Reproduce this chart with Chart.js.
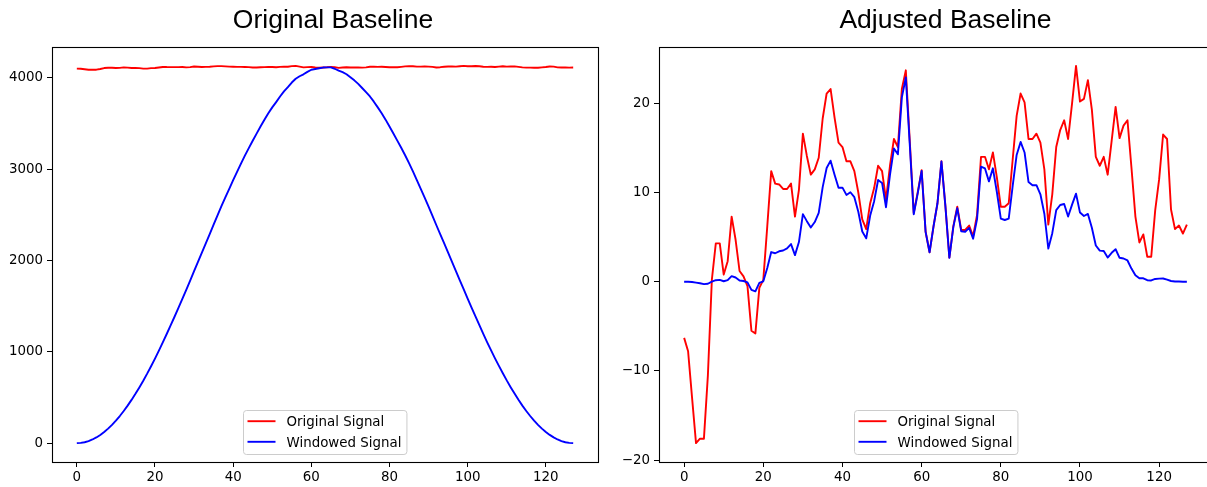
<!DOCTYPE html>
<html>
<head>
<meta charset="utf-8">
<script src="https://cdn.jsdelivr.net/npm/chart.js@4.4.1/dist/chart.umd.min.js"></script>
<style>
  html, body { margin: 0; padding: 0; background: #fff; width: 1207px; height: 487px; overflow: hidden; position: relative; }
  .panel { position: absolute; top: 0; height: 487px; overflow: hidden; }
  #leftBox { left: 0; width: 600px; }
  #rightBox { left: 605px; width: 602px; }
  canvas { position: absolute; top: 0; left: 0; }
</style>
</head>
<body>
<div class="panel" id="leftBox"><canvas id="leftPanel" width="600" height="487"></canvas></div>
<div class="panel" id="rightBox"><canvas id="rightPanel" width="620" height="487"></canvas></div>
<script>
// Sample positions 0..127
const sampleIndex = Array.from({ length: 128 }, (_, i) => i);
const seriesNames = ['Original Signal', 'Windowed Signal'];
const panelTitles = ['Original Baseline', 'Adjusted Baseline'];

// Raw signal and its windowed version
const originalSignal = [
  4100.7,4099.2,4094.0,4088.9,4089.4,4089.4,4096.5,4107.2,4111.3,4111.3,
  4107.8,4109.3,4114.3,4111.7,4108.2,4107.6,4106.5,4101.5,4101.2,4106.3,
  4107.2,4113.2,4119.4,4118.0,4117.9,4117.4,4117.4,4118.0,4114.3,4117.3,
  4123.6,4121.1,4119.0,4119.6,4120.9,4125.3,4128.1,4128.6,4125.4,4122.6,
  4122.1,4120.5,4120.5,4119.4,4117.0,4114.0,4112.9,4115.8,4117.5,4120.0,
  4119.4,4116.2,4120.0,4123.0,4122.1,4128.6,4130.7,4122.8,4114.7,4117.0,
  4119.5,4112.6,4110.3,4113.2,4115.8,4120.5,4115.5,4109.7,4113.2,4115.4,
  4112.8,4112.8,4113.3,4112.1,4114.5,4121.0,4121.0,4119.6,4121.5,4118.7,
  4115.4,4115.4,4115.8,4120.7,4125.6,4128.1,4127.1,4123.0,4123.0,4123.6,
  4122.6,4119.6,4113.4,4116.8,4122.1,4124.0,4125.1,4123.0,4127.0,4131.2,
  4127.2,4127.5,4129.6,4126.3,4121.0,4120.0,4121.0,4119.0,4122.8,4126.6,
  4123.1,4124.5,4125.1,4119.8,4114.3,4111.4,4112.3,4109.8,4109.8,4115.0,
  4118.5,4123.5,4123.0,4115.1,4112.9,4113.3,4112.4,4113.4
];
const windowedSignal = [
  0,2.50,10.03,22.49,39.91,62.24,89.59,121.95,158.95,200.43,
  246.26,296.82,352.01,410.72,473.35,540.03,610.35,683.51,760.73,842.21,
  925.85,1013.62,1104.16,1195.12,1288.70,1383.82,1480.86,1579.50,1677.61,1779.33,
  1883.37,1984.06,2084.83,2186.97,2289.24,2392.71,2494.90,2594.31,2690.34,2784.78,
  2878.92,2970.43,3060.67,3147.80,3230.90,3310.74,3388.99,3467.11,3541.17,3611.97,
  3676.73,3734.75,3795.23,3851.00,3898.35,3948.47,3989.92,4017.30,4038.87,4065.95,
  4088.73,4096.56,4104.51,4112.54,4115.14,4114.69,4099.45,4079.00,4062.19,4039.56,
  4007.55,3972.63,3933.84,3888.89,3843.07,3796.15,3739.10,3676.91,3613.28,3542.20,
  3466.78,3391.05,3312.19,3233.80,3152.53,3066.31,2975.19,2879.54,2785.05,2689.17,
  2590.54,2489.77,2385.81,2286.96,2188.30,2087.36,1985.98,1883.10,1783.52,1684.50,
  1583.03,1484.49,1387.92,1291.33,1195.99,1104.32,1015.54,928.51,845.59,765.45,
  687.11,613.02,542.33,474.68,410.98,351.77,297.03,246.38,200.36,159.09,
  122.28,90.18,62.75,40.16,22.62,10.08,2.51,0
];

// Baseline-adjusted signal and its windowed version
const adjustedSignal = [
  -6.3,-7.8,-13.0,-18.1,-17.6,-17.6,-10.5,0.2,4.3,4.3,
  0.8,2.3,7.3,4.7,1.2,0.6,-0.5,-5.5,-5.8,-0.7,
  0.2,6.2,12.4,11.0,10.9,10.4,10.4,11.0,7.3,10.3,
  16.6,14.1,12.0,12.6,13.9,18.3,21.1,21.6,18.4,15.6,
  15.1,13.5,13.5,12.4,10.0,7.0,5.9,8.8,10.5,13.0,
  12.4,9.2,13.0,16.0,15.1,21.6,23.7,15.8,7.7,10.0,
  12.5,5.6,3.3,6.2,8.8,13.5,8.5,2.7,6.2,8.4,
  5.8,5.8,6.3,5.1,7.5,14.0,14.0,12.6,14.5,11.7,
  8.4,8.4,8.8,13.7,18.6,21.1,20.1,16.0,16.0,16.6,
  15.6,12.6,6.4,9.8,15.1,17.0,18.1,16.0,20.0,24.2,
  20.2,20.5,22.6,19.3,14.0,13.0,14.0,12.0,15.8,19.6,
  16.1,17.5,18.1,12.8,7.3,4.4,5.3,2.8,2.8,8.0,
  11.5,16.5,16.0,8.1,5.9,6.3,5.4,6.4
];
const adjustedWindowed = [
  0,-0.005,-0.03,-0.10,-0.17,-0.27,-0.23,0.006,0.17,0.21,
  0.05,0.17,0.62,0.47,0.14,0.08,-0.07,-0.92,-1.08,-0.14,
  0.05,1.53,3.32,3.19,3.41,3.50,3.74,4.22,2.98,4.45,
  7.58,6.79,6.07,6.69,7.72,10.61,12.75,13.57,12.00,10.54,
  10.55,9.73,10.03,9.48,7.85,5.63,4.86,7.41,9.03,11.40,
  11.07,8.35,11.98,14.94,14.28,20.66,22.89,15.40,7.56,9.88,
  12.41,5.58,3.30,6.20,8.80,13.48,8.47,2.68,6.12,8.25,
  5.65,5.60,6.03,4.82,7.01,12.90,12.70,11.25,12.71,10.06,
  7.08,6.92,7.08,10.75,14.21,15.67,14.49,11.17,10.81,10.83,
  9.80,7.62,3.71,5.44,8.02,8.60,8.71,7.31,8.64,9.87,
  7.75,7.37,7.60,6.04,4.06,3.48,3.45,2.71,3.24,3.64,
  2.68,2.60,2.38,1.47,0.73,0.38,0.38,0.17,0.14,0.31,
  0.34,0.36,0.24,0.08,0.03,0.02,0.003,0
];

// Tick positions
const xTickValues = [0, 20, 40, 60, 80, 100, 120];
const leftYTickValues = [0, 1000, 2000, 3000, 4000];
const rightYTickValues = [-20, -10, 0, 10, 20];

const TICK_FONT = { family: "'DejaVu Sans', sans-serif", size: 13.4 };
const LEGEND_FONT_SIZE = 13.4;
const TITLE_FONT = "26.5px 'Liberation Sans', Arial, sans-serif";
const INK = '#000000';
const LINE_WIDTH = 1.9;

// Data limits with a 5% margin on each side
function paddedRange(arrays, frac = 0.05) {
  let lo = Infinity, hi = -Infinity;
  arrays.forEach(a => a.forEach(v => { lo = Math.min(lo, v); hi = Math.max(hi, v); }));
  const pad = (hi - lo) * frac;
  return { min: lo - pad, max: hi + pad };
}

function formatTick(v) {
  return v < 0 ? '\u2212' + Math.abs(v) : String(v);
}

// Panel title, axes frame and an in-plot legend at lower centre
const frameAndLegend = {
  id: 'frameAndLegend',
  afterDatasetsDraw(chart, args, opts) {
    const { ctx, chartArea: a } = chart;
    ctx.save();

    // title above the plot area
    ctx.font = TITLE_FONT;
    ctx.fillStyle = INK;
    ctx.textAlign = 'center';
    ctx.textBaseline = 'alphabetic';
    ctx.fillText(opts.title, (a.left + a.right) / 2 + opts.titleShift, 28);

    // frame
    const L = Math.round(a.left) + 0.5, T = Math.round(a.top) + 0.5;
    const R = Math.round(a.right) + 0.5, B = Math.round(a.bottom) + 0.5;
    ctx.strokeStyle = INK;
    ctx.lineWidth = 1.1;
    ctx.strokeRect(L, T, R - L, B - T);

    // legend
    const fs = LEGEND_FONT_SIZE;
    ctx.font = fs + "px 'DejaVu Sans', sans-serif";
    const items = chart.data.datasets;
    const textW = Math.max(...items.map(d => ctx.measureText(d.label).width));
    const padL = 4, handle = 28, gap = 11, padR = 5.5;
    const w = padL + handle + gap + textW + padR;
    const h = 44;
    const x0 = Math.round((a.left + a.right) / 2 - w / 2) + 0.5;
    const y0 = Math.round(a.bottom - 8 - h) + 0.5;

    ctx.beginPath();
    if (ctx.roundRect) ctx.roundRect(x0, y0, w, h, 3); else ctx.rect(x0, y0, w, h);
    ctx.fillStyle = 'rgba(255,255,255,0.8)';
    ctx.fill();
    ctx.strokeStyle = '#cccccc';
    ctx.lineWidth = 1;
    ctx.stroke();

    items.forEach((d, k) => {
      const rowY = y0 + 10.7 + k * 20.6;
      ctx.beginPath();
      ctx.moveTo(x0 + padL, rowY);
      ctx.lineTo(x0 + padL + handle, rowY);
      ctx.strokeStyle = d.borderColor;
      ctx.lineWidth = LINE_WIDTH;
      ctx.stroke();
      ctx.fillStyle = INK;
      ctx.textBaseline = 'alphabetic';
      ctx.textAlign = 'left';
      ctx.fillText(d.label, x0 + padL + handle + gap, rowY + 0.36 * fs);
    });
    ctx.restore();
  }
};

function makePanel(canvasId, title, titleShift, redSeries, blueSeries, yTickValues, yAxisWidth, rightPad) {
  const xRange = paddedRange([sampleIndex]);
  const yRange = paddedRange([redSeries, blueSeries]);
  const axisCommon = {
    type: 'linear',
    border: { display: false },
    grid: { drawOnChartArea: false, drawTicks: true, tickLength: 5, color: INK, lineWidth: 1 },
  };
  return new Chart(document.getElementById(canvasId), {
    type: 'line',
    data: {
      datasets: [
        { label: seriesNames[0], data: sampleIndex.map((x, i) => ({ x, y: redSeries[i] })),
          borderColor: '#ff0000', order: 1 },
        { label: seriesNames[1], data: sampleIndex.map((x, i) => ({ x, y: blueSeries[i] })),
          borderColor: '#0000ff', order: 0 }
      ]
    },
    options: {
      responsive: false,
      animation: false,
      devicePixelRatio: 1,
      layout: { padding: { left: 0, right: rightPad, top: 47, bottom: 0 } },
      elements: {
        point: { radius: 0, hoverRadius: 0 },
        line: { borderWidth: LINE_WIDTH, tension: 0, fill: false, borderJoinStyle: 'round' }
      },
      plugins: {
        legend: { display: false },
        tooltip: { enabled: false },
        title: { display: false },
        frameAndLegend: { title, titleShift }
      },
      scales: {
        x: Object.assign({}, axisCommon, {
          min: xRange.min, max: xRange.max,
          afterBuildTicks: s => { s.ticks = xTickValues.map(v => ({ value: v })); },
          afterFit: s => { s.height = 25; },
          ticks: { callback: v => formatTick(v), font: TICK_FONT, color: INK, padding: 2,
                   maxRotation: 0, autoSkip: false }
        }),
        y: Object.assign({}, axisCommon, {
          min: yRange.min, max: yRange.max,
          afterBuildTicks: s => { s.ticks = yTickValues.map(v => ({ value: v })); },
          afterFit: s => { s.width = yAxisWidth; },
          ticks: { callback: v => formatTick(v), font: TICK_FONT, color: INK, padding: 4, autoSkip: false }
        })
      }
    },
    plugins: [frameAndLegend]
  });
}

makePanel('leftPanel', panelTitles[0], 8, originalSignal, windowedSignal, leftYTickValues, 52, 2);
// the right panel's plot area runs past the page edge, so its right side is cut off
makePanel('rightPanel', panelTitles[1], 10, adjustedSignal, adjustedWindowed, rightYTickValues, 54, 13);
</script>
</body>
</html>
